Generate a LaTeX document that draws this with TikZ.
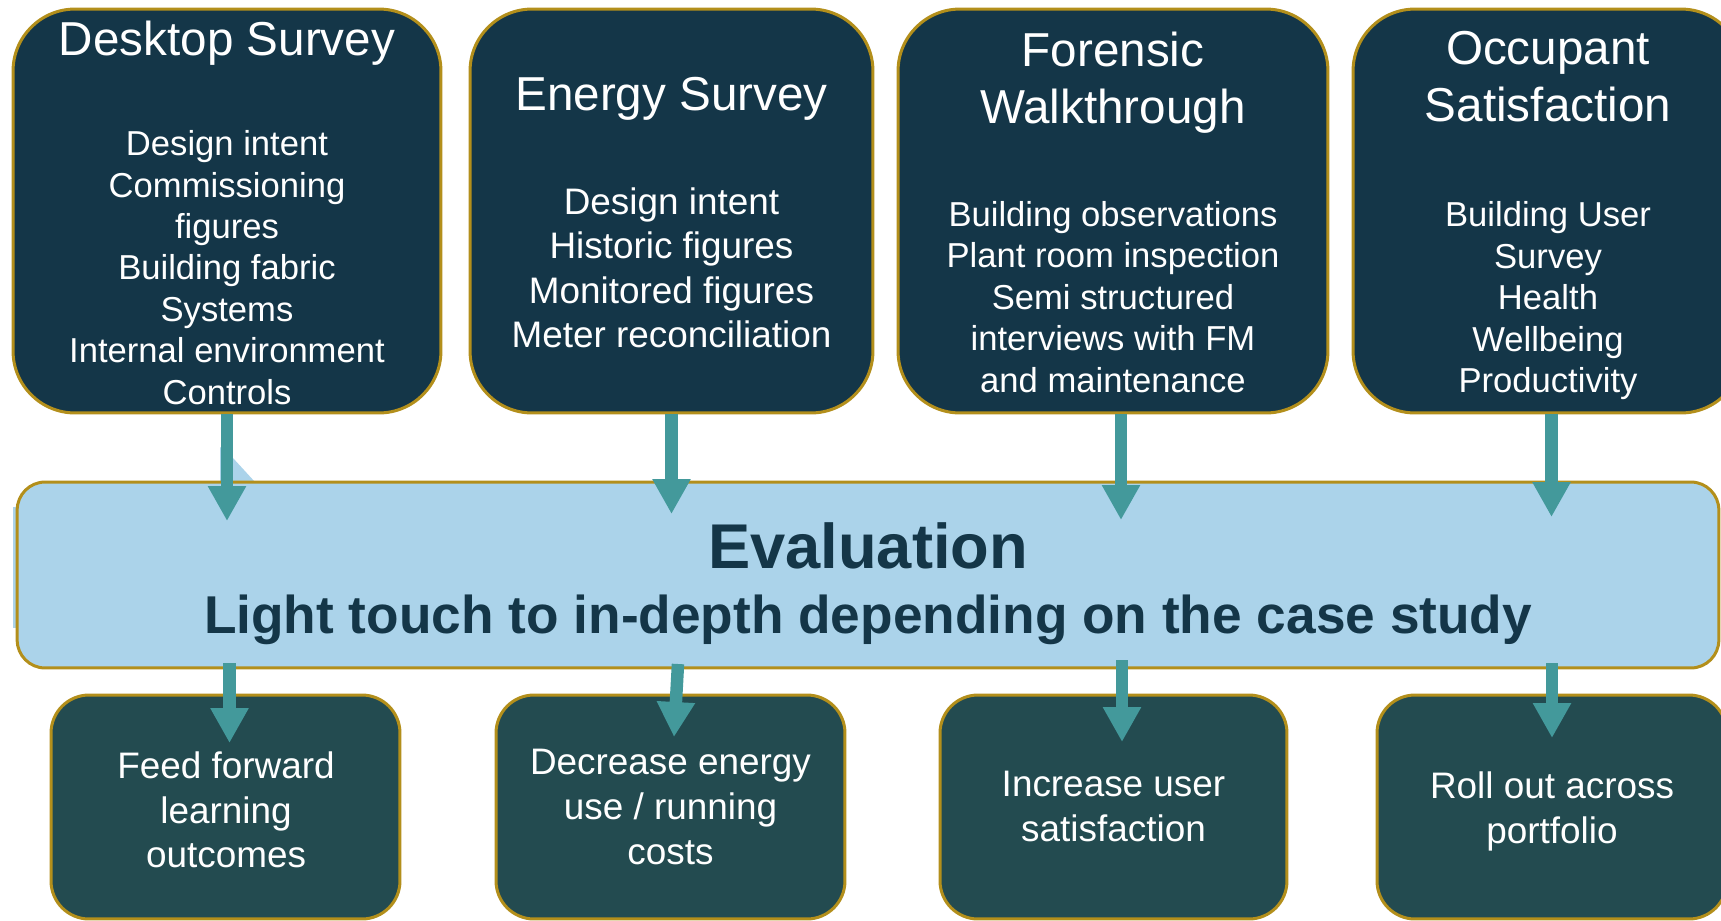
\documentclass[tikz,border=0pt]{standalone}
\usepackage{fontspec}
\setmainfont{Liberation Sans}
\usetikzlibrary{arrows.meta}
\definecolor{surveynavy}{HTML}{143648}
\definecolor{outcometeal}{HTML}{234B50}
\definecolor{bandblue}{HTML}{ABD3EA}
\definecolor{rimgold}{HTML}{B38F1B}
\definecolor{flowteal}{HTML}{43999B}

\tikzset{
  surveybox/.style={draw=rimgold,line width=0.06cm,fill=surveynavy,rounded corners=1.24cm,inner sep=0pt,minimum height=8.08cm},
  outcomebox/.style={draw=rimgold,line width=0.06cm,fill=outcometeal,rounded corners=0.76cm,inner sep=0pt,minimum height=4.48cm},
  surveytitle/.style={text=white,align=center,font=\fontsize{27.1}{32.4}\selectfont},
  surveytext/.style={text=white,align=center,font=\fontsize{19.7}{23.6}\selectfont},
  outcometext/.style={text=white,align=center,font=\fontsize{21}{25.6}\selectfont},
  evalhead/.style={text=surveynavy,font=\bfseries\fontsize{36}{43}\selectfont},
  evalsub/.style={text=surveynavy,font=\bfseries\fontsize{30.3}{36}\selectfont},
  flow/.style={draw=flowteal,line width=0.25cm,-{Triangle[length=0.7cm,width=0.72cm]}}
}

\begin{document}
\begin{tikzpicture}[x=0.02cm,y=-0.02cm]
    \useasboundingbox (0,0) rectangle (1721,920);
    \clip (0,0) rectangle (1721,920);
    % survey boxes
    \node[surveybox,minimum width=8.56cm] (desk) at (227,211) {};
    \node[surveybox,minimum width=8.06cm] (energy) at (671.5,211) {};
    \node[surveybox,minimum width=8.6cm] (forensic) at (1113,211) {};
    \node[surveybox,minimum width=7.8cm] (occupant) at (1548,211) {};
    % leftover light blue bits behind the band
    \fill[bandblue] (13,507) rectangle (18,628);
    \fill[bandblue] (220,447) -- (233,458) -- (255,482) -- (220,482) -- cycle;
    % evaluation band
    \node[draw=rimgold,line width=0.06cm,fill=bandblue,rounded corners=0.56cm,inner sep=0pt,minimum width=34.04cm,minimum height=3.72cm] (evalband) at (868,575) {};
    % outcome boxes
    \node[outcomebox,minimum width=6.98cm] (feedfwd) at (225.5,807) {};
    \node[outcomebox,minimum width=6.98cm] (decrease) at (670.5,807) {};
    \node[outcomebox,minimum width=6.94cm] (increase) at (1113.5,807) {};
    \node[outcomebox,minimum width=7cm] (rollout) at (1552,807) {};
    % texts
    \node[surveytitle,anchor=base] (desktitle) at (227,55) {Desktop Survey};
    \node[surveytext] (desktext) at (227,267.6) {Design intent\\Commissioning\\figures\\Building fabric\\Systems\\Internal environment\\Controls};
    \node[surveytitle,anchor=base] (energytitle) at (671.5,110) {Energy Survey};
    \node[surveytext,font=\fontsize{21}{25.4}\selectfont] (energytext) at (671.5,267.8) {Design intent\\Historic figures\\Monitored figures\\Meter reconciliation};
    \node[surveytitle] (forensictitle) at (1113,82.9) {Forensic\\Walkthrough};
    \node[surveytext] (forensictext) at (1113,297) {Building observations\\Plant room inspection\\Semi structured\\interviews with FM\\and maintenance};
    \node[surveytitle] (occupanttitle) at (1548,77) {Occupant\\Satisfaction};
    \node[surveytext] (occupanttext) at (1548,300.8) {Building User\\Survey\\Health\\Wellbeing\\Productivity};
    \node[evalhead,anchor=base] (evaltitle) at (868,568) {Evaluation};
    \node[evalsub,anchor=base] (evaldepth) at (868,633) {Light touch to in-depth depending on the case study};
    \node[outcometext] (feedtext) at (226,809.8) {Feed forward\\learning\\outcomes};
    \node[outcometext] (decreasetext) at (670.5,806.8) {Decrease energy\\use / running\\costs};
    \node[outcometext] (increasetext) at (1113.5,806) {Increase user\\satisfaction};
    \node[outcometext] (rollouttext) at (1552,811) {Roll out across\\portfolio};
    % arrows into the band
    \coordinate (desktip) at (227,521);
    \coordinate (energytip) at (671.5,514);
    \coordinate (forensictip) at (1121,520);
    \coordinate (occupanttip) at (1551.5,517);
    \draw[flow] (desk.south) -- (desktip);
    \draw[flow] (energy.south) -- (energytip);
    \draw[flow] (forensictip |- forensic.south) -- (forensictip);
    \draw[flow] (occupanttip |- occupant.south) -- (occupanttip);
    % arrows out of the band
    \coordinate (feedtail) at (229.5,663);
    \coordinate (feedtip) at (229.5,743);
    \coordinate (decreasetail) at (678,664);
    \coordinate (decreasetip) at (674,737);
    \coordinate (increasetail) at (1122,660);
    \coordinate (increasetip) at (1122,742);
    \coordinate (rollouttail) at (1552,663);
    \coordinate (rollouttip) at (1552,738);
    \draw[flow] (feedtail) -- (feedtip);
    \draw[flow] (decreasetail) -- (decreasetip);
    \draw[flow] (increasetail) -- (increasetip);
    \draw[flow] (rollouttail) -- (rollouttip);
\end{tikzpicture}
\end{document}
